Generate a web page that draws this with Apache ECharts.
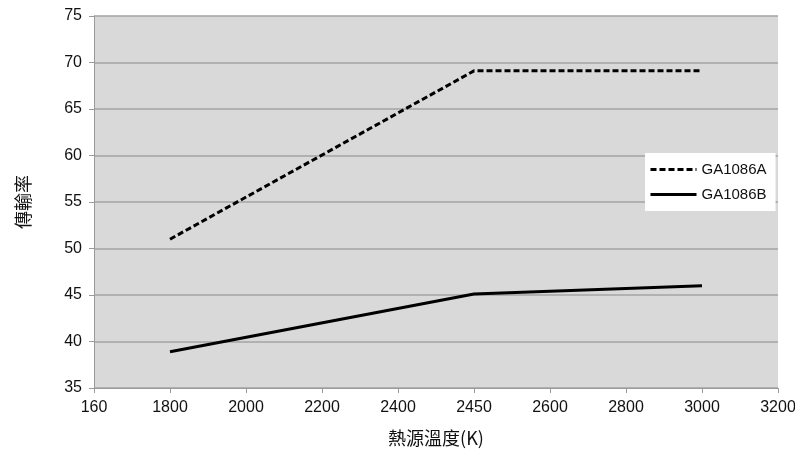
<!DOCTYPE html>
<html><head><meta charset="utf-8">
<script src="https://cdn.jsdelivr.net/npm/echarts@6/dist/echarts.min.js"></script>
<style>html,body{margin:0;padding:0;background:#fff}#c{width:795px;height:452px}</style>
</head><body><div id="c"></div>
<script>
const categories = ['160','1800','2000','2200','2400','2450','2600','2800','3000','3200'];
const seriesAName = 'GA1086A';
const seriesBName = 'GA1086B';
const seriesA = [null, 51, null, null, null, 69.1, null, null, 69.1, null];
const seriesB = [null, 38.9, null, null, null, 45.1, null, null, 46, null];
const yTicks = {min: 35, max: 75, interval: 5};

const chart = echarts.init(document.getElementById('c'));
const font = 'Liberation Sans, Arial, sans-serif';
const cjk = 'Noto Sans CJK TC, sans-serif';
chart.setOption({
  animation: false,
  backgroundColor: '#fff',
  grid: {left: 94, right: 17, top: 16, bottom: 64, show: true, backgroundColor: '#d9d9d9', borderWidth: 0,
         containLabel: false, outerBoundsMode: 'none'},
  legend: {
    orient: 'vertical', left: 645, top: 153,
    backgroundColor: '#fff', padding: [9, 9, 9, 4], itemGap: 10,
    itemWidth: 46, itemHeight: 14,
    itemStyle: {color: 'rgba(0,0,0,0)', borderWidth: 0},
    lineStyle: {width: 3},
    textStyle: {color: '#111', fontSize: 15, fontFamily: font},
    data: [seriesAName, seriesBName]
  },
  xAxis: {
    type: 'category', data: categories, boundaryGap: false,
    name: '熱源溫度(K)', nameLocation: 'middle', nameGap: 41,
    nameTextStyle: {fontSize: 18, color: '#111', fontFamily: cjk},
    axisLine: {lineStyle: {color: '#9a9a9a', width: 1}},
    axisTick: {show: true, length: 5, lineStyle: {color: '#9a9a9a'}, alignWithLabel: true},
    axisLabel: {interval: 0, color: '#111', fontSize: 16, fontFamily: font, margin: 12},
    splitLine: {show: false}
  },
  yAxis: {
    type: 'value', min: yTicks.min, max: yTicks.max, interval: yTicks.interval,
    name: '傳輸率', nameLocation: 'middle', nameGap: 62, nameRotate: 90,
    nameTextStyle: {fontSize: 18, color: '#111', fontFamily: cjk},
    axisLine: {show: true, lineStyle: {color: '#9a9a9a', width: 1}},
    axisTick: {show: true, length: 5, lineStyle: {color: '#9a9a9a'}},
    axisLabel: {color: '#111', fontSize: 16, fontFamily: font, margin: 12},
    splitLine: {show: true, lineStyle: {color: '#a3a3a3', width: 1.5}}
  },
  series: [
    {name: seriesAName, type: 'line', data: seriesA, connectNulls: true, showSymbol: false, symbol: 'none',
     lineStyle: {color: '#000', width: 3, type: [6, 3]}, itemStyle: {color: '#000'}},
    {name: seriesBName, type: 'line', data: seriesB, connectNulls: true, showSymbol: false, symbol: 'none',
     lineStyle: {color: '#000', width: 3, type: 'solid'}, itemStyle: {color: '#000'}}
  ]
});
</script></body></html>
